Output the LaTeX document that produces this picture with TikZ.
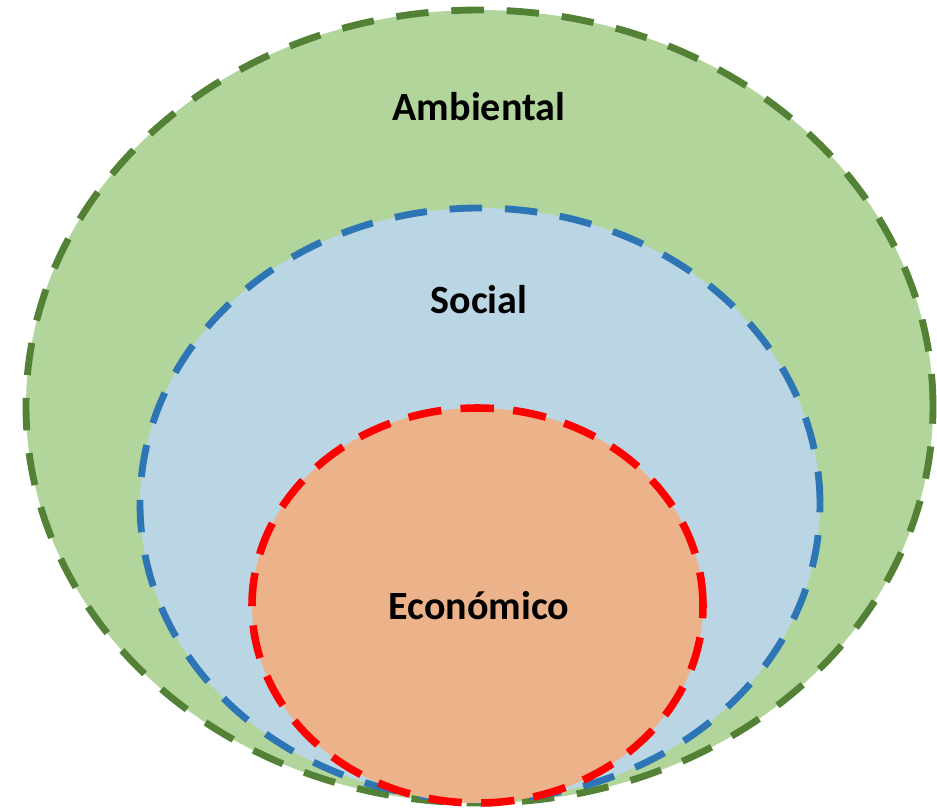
\documentclass[tikz,border=0pt]{standalone}
\usepackage{fontspec}
\setmainfont{Carlito}
\usepackage{xcolor}
\usepackage{tikz}
\usetikzlibrary{shapes.geometric}

\definecolor{ambfill}{HTML}{B1D59A}
\definecolor{ambline}{HTML}{538135}
\definecolor{socfill}{HTML}{BAD5E3}
\definecolor{socline}{HTML}{2E75B6}
\definecolor{ecofill}{HTML}{ECB38B}
\definecolor{ecoline}{HTML}{FF0000}

\tikzset{
    ring/.style={line width=3.9pt, dash pattern=on 18.5pt off 13pt},
    label/.style={font=\fontsize{22.8}{26}\selectfont\bfseries, text=black}
}

\begin{document}
\begin{tikzpicture}[x=0.02cm, y=0.02cm]
    \useasboundingbox (0,0) rectangle (937,808);

    \fill[ambfill] (479.5,401.5) ellipse [x radius=453.5, y radius=396.5];
    \draw[ring, ambline] (479.5,401.5) ellipse [x radius=453.5, y radius=396.5];

    \fill[socfill] (480,304) ellipse [x radius=340, y radius=296];
    \draw[ring, socline] (480,304) ellipse [x radius=340, y radius=296];

    \fill[ecofill] (477.5,202.5) ellipse [x radius=225.5, y radius=197.5];
    \draw[ring, ecoline, line width=4.3pt, dash pattern=on 19pt off 11pt] (477.5,202.5) ellipse [x radius=225.5, y radius=197.5];

    \node[label] (amb) at (479,701) {Ambiental};
    \node[label] (soc) at (479,508) {Social};
    \node[label] (eco) at (479,202) {Económico};

\end{tikzpicture}
\end{document}
